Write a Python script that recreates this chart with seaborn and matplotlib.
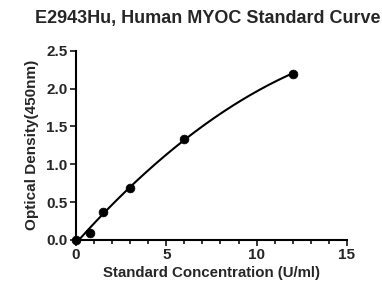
import numpy as np
import pandas as pd
import matplotlib
matplotlib.use("Agg")
import matplotlib.pyplot as plt
import seaborn as sns
from matplotlib.ticker import MultipleLocator

# Standard curve data
conc = [0, 0.75, 1.5, 3, 6, 12]
od = [0.0, 0.09, 0.37, 0.68, 1.34, 2.2]

data = pd.DataFrame({"conc": conc, "od": od})

# smooth fit through the standards
coef = np.polyfit(data["conc"], data["od"], 2)
xs = np.linspace(0, max(conc), 200)
fit = pd.DataFrame({"conc": xs, "od": np.polyval(coef, xs)})

sns.set_style("ticks")
plt.rcParams["font.family"] = ["Liberation Sans", "DejaVu Sans"]
plt.rcParams["font.weight"] = "bold"

fig = plt.figure(figsize=(3.82, 2.89), dpi=100)
ax = fig.add_axes([0.199, 0.170, 0.709, 0.654])

sns.lineplot(data=fit, x="conc", y="od", ax=ax, color="black", linewidth=1.5)
sns.scatterplot(data=data, x="conc", y="od", ax=ax, color="black", s=40,
                edgecolor="black", zorder=3, clip_on=False)

ax.set_xlim(0, 15)
ax.set_ylim(0, 2.5)
ax.xaxis.set_major_locator(MultipleLocator(5))
ax.xaxis.set_minor_locator(MultipleLocator(1))
ax.yaxis.set_major_locator(MultipleLocator(0.5))
ax.yaxis.set_major_formatter(matplotlib.ticker.FormatStrFormatter("%.1f"))
ax.tick_params(axis="both", which="major", length=4, width=1.3, labelsize=11, pad=2)
ax.tick_params(axis="x", which="minor", length=3, width=1.3)
for lab in ax.get_xticklabels() + ax.get_yticklabels():
    lab.set_fontweight("bold")

sns.despine(ax=ax)
for s in ["left", "bottom"]:
    ax.spines[s].set_linewidth(1.5)
    ax.spines[s].set_color("black")

ax.set_xlabel("Standard Concentration (U/ml)", fontsize=10.8, fontweight="bold", labelpad=3)
ax.set_ylabel("Optical Density(450nm)", fontsize=11, fontweight="bold", labelpad=5)
fig.suptitle("E2943Hu, Human MYOC Standard Curve", fontsize=13, fontweight="bold",
             x=0.543, y=0.965)

fig.savefig("out.png", dpi=100)
